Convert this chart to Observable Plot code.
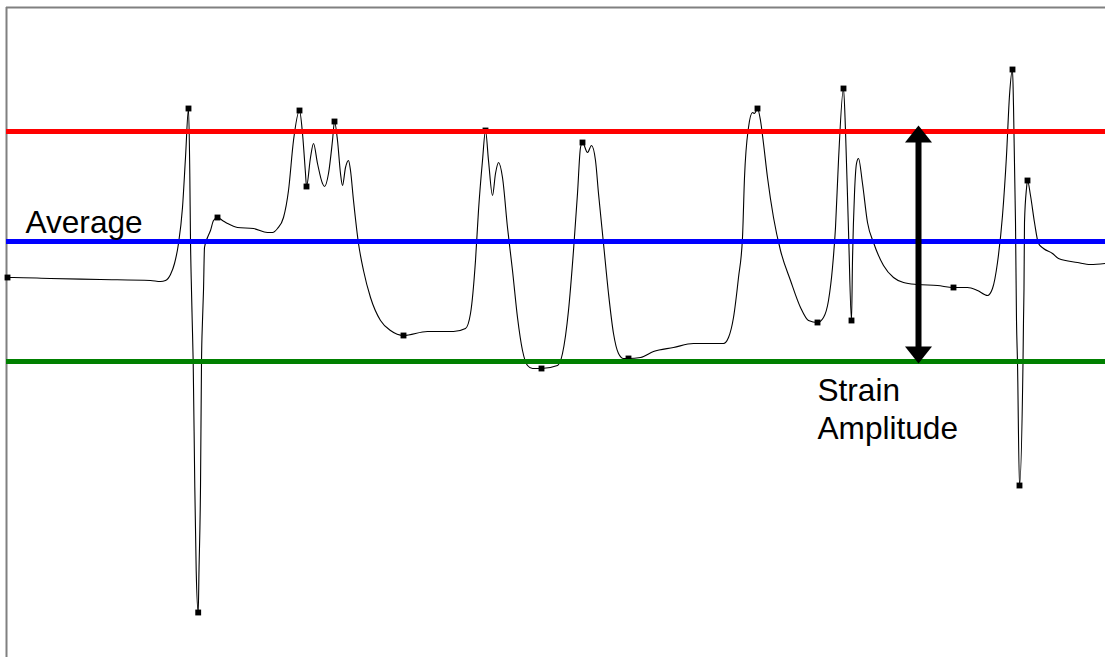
<!DOCTYPE html>
<html>
<head>
<meta charset="utf-8">
<script src="https://cdn.jsdelivr.net/npm/d3@7"></script>
<script src="https://cdn.jsdelivr.net/npm/@observablehq/plot@0.6"></script>
<style>
  html, body { margin: 0; padding: 0; background: #fff; }
  #chart svg { display: block; }
</style>
</head>
<body>
<div id="chart"></div>
<script>
// Strain signal (time in samples, strain in arbitrary units; 0 = minimum level)
const time = [1, 7, 44, 94, 144, 154, 159, 164, 168, 172, 176, 179, 182, 183.3, 184, 185, 185.7, 186.7, 188.3, 189.7, 191.7,
  192.5, 194, 195, 196, 197, 198, 201, 204, 207, 211, 216, 221, 231, 247, 261, 266, 271, 277, 282, 287, 293,
  296, 299, 300, 304, 307, 311, 316, 318, 322, 326, 328, 331, 334, 336, 339, 342, 344, 347, 352, 357, 364, 374, 384, 397,
  421, 447, 459, 464, 469, 472, 476, 479, 482, 486, 489, 492, 496, 501, 506, 511, 516, 521, 526, 535,
  551, 556, 562, 567, 571, 574, 576, 581, 585, 589, 592, 597, 602, 607, 612, 617, 622,
  634, 647, 667, 687, 704, 717, 722, 727, 732, 736, 738, 742, 746, 748, 751, 754, 757, 761, 767, 774, 784, 794, 802, 811,
  817, 822, 826, 829, 832, 837, 839, 842, 845, 846, 848, 850, 852, 856, 861, 867, 877, 887, 897, 911, 931, 947,
  961, 971, 981, 986, 991, 996, 1000, 1003, 1006, 1007, 1009, 1010, 1011, 1013, 1016.5, 1017, 1017.5, 1018, 1020, 1021,
  1024, 1028, 1032, 1037, 1046, 1052, 1071, 1084, 1099];
const strain = [84, 84, 83, 82, 81, 80, 81, 87, 98, 118, 154, 204, 253, 188, 121, 71, 41, -1, -126, -209, -251,
  -209, -126, -1, 41, 71, 114, 124, 131, 141, 144, 141, 138, 134, 133, 129, 129, 133, 144, 171, 221, 251,
  228, 188, 175, 204, 218, 198, 178, 175, 188, 221, 240, 221, 188, 176, 194, 201, 191, 161, 118, 91, 64, 41, 31, 26,
  30, 30, 33, 48, 101, 151, 201, 231, 201, 166, 188, 199, 184, 134, 91, 44, 11, -4, -7, -7,
  -4, 8, 51, 111, 168, 214, 219, 209, 216, 201, 168, 118, 68, 28, 8, 3, 3,
  4, 10, 14, 18, 18, 18, 24, 44, 84, 124, 184, 234, 249, 248, 253, 241, 218, 184, 144, 111, 81, 54, 41, 39,
  44, 61, 94, 134, 201, 273, 231, 131, 41, 101, 168, 198, 203, 178, 139, 119, 96, 84, 79, 77, 76, 74,
  74, 71, 66, 73, 99, 146, 206, 266, 292, 256, 139, 41, -1, -124, -1, 41, 73, 139, 173, 181,
  166, 139, 118, 113, 108, 103, 99, 97, 98];

// Turning points picked out on the signal
const peakTime = [1, 182, 191.7, 211, 293, 300, 328, 397, 479, 535, 576, 622, 751, 811, 837, 845, 947, 1006, 1013, 1021];
const peakStrain = [84, 253, -251, 144, 251, 175, 240, 26, 231, -7, 219, 3, 253, 39, 273, 41, 74, 292, -124, 181];

// Reference levels
const levelNames = ["Maximum", "Average", "Minimum"];
const levelValues = [230, 120, 0];
const levelColors = ["#ff0000", "#0000ff", "#008000"];

// Amplitude arrow
const arrowTime = [912];
const arrowLow = [-2];
const arrowHigh = [236];
const headLength = 14; // shaft stops inside each arrow head

const signal = time.map((t, i) => ({t, s: strain[i]}));
const peaks = peakTime.map((t, i) => ({t, s: peakStrain[i]}));
const levels = levelNames.map((name, i) => ({name, value: levelValues[i], color: levelColors[i]}));
const arrows = arrowTime.map((t, i) => ({t, lo: arrowLow[i], hi: arrowHigh[i]}));

const headUp = {draw(ctx) { ctx.moveTo(0, 0); ctx.lineTo(13.5, 17); ctx.lineTo(-13.5, 17); ctx.closePath(); }};
const headDown = {draw(ctx) { ctx.moveTo(0, 0); ctx.lineTo(13.5, -17); ctx.lineTo(-13.5, -17); ctx.closePath(); }};

const chart = Plot.plot({
  width: 1105,
  height: 657,
  marginLeft: 6,
  marginRight: 0,
  marginTop: 7,
  marginBottom: 0,
  style: {fontFamily: "'Liberation Sans', Arial, sans-serif", background: "#fff"},
  x: {domain: [0, 1099], axis: null},
  y: {domain: [-296, 354], axis: null},
  color: {type: "identity"},
  marks: [
    Plot.ruleX([0], {stroke: "#808080", strokeWidth: 2}),
    Plot.ruleY([354], {stroke: "#808080", strokeWidth: 2}),
    Plot.line(signal, {x: "t", y: "s", stroke: "#000", strokeWidth: 1.1, curve: "monotone-x"}),
    Plot.dot(peaks, {x: "t", y: "s", symbol: "square", r: 3.3, fill: "#000", stroke: null}),
    Plot.ruleY(levels, {y: "value", stroke: "color", strokeWidth: 5}),
    Plot.ruleX(arrows, {x: "t", y1: d => d.lo + headLength, y2: d => d.hi - headLength, stroke: "#000", strokeWidth: 6}),
    Plot.dot(arrows, {x: "t", y: "hi", symbol: headUp, fill: "#000", stroke: null}),
    Plot.dot(arrows, {x: "t", y: "lo", symbol: headDown, fill: "#000", stroke: null}),
    Plot.text(["Average"], {x: 19, y: 129, text: d => d, textAnchor: "start", lineAnchor: "bottom", fontSize: 31.6, fill: "#000"}),
    Plot.text(["Strain\nAmplitude"], {x: 811, y: -77, text: d => d, textAnchor: "start", lineAnchor: "bottom", lineHeight: 1.18, fontSize: 31.6, fill: "#000"})
  ]
});
document.getElementById("chart").appendChild(chart);
</script>
</body>
</html>
